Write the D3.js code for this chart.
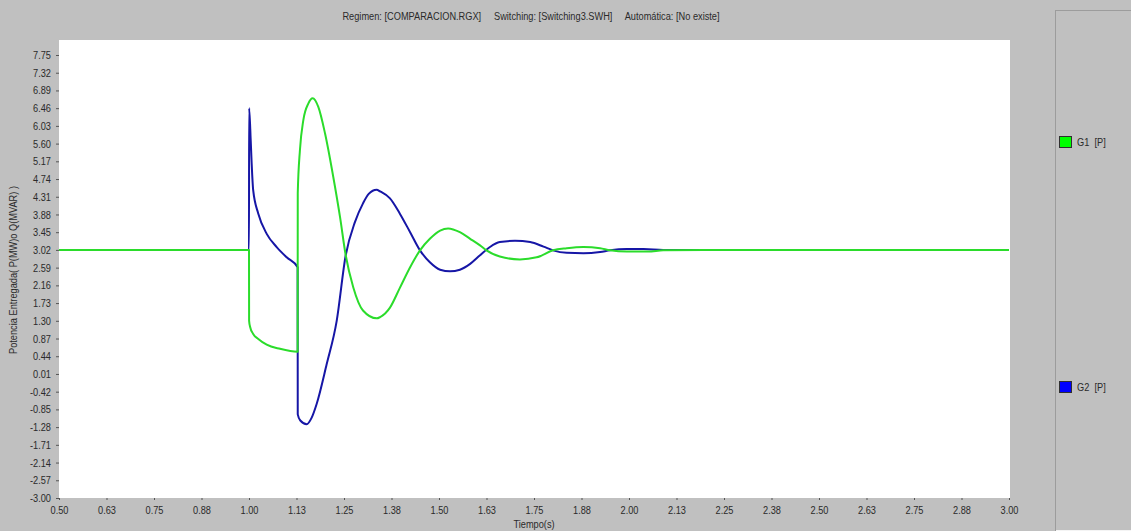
<!DOCTYPE html>
<html>
<head>
<meta charset="utf-8">
<script src="https://cdn.jsdelivr.net/npm/d3@7/dist/d3.min.js"></script>
<style>
  html, body { margin: 0; padding: 0; background: #c0c0c0; }
  svg { display: block; }
  text { font-family: "Liberation Sans", Arial, sans-serif; fill: #2a2a2a; }
</style>
</head>
<body>
<svg id="chart" width="1131" height="531"></svg>
<script>
// Simulation output: delivered active power of each generator (time in s, value in MW)
const g1Time = [0.50, 1.000, 1.0003, 1.003, 1.011, 1.0245, 1.0466, 1.0816, 1.128, 1.1283, 1.134, 1.143, 1.156, 1.1676, 1.1824, 1.200, 1.2218, 1.2395, 1.2545, 1.2745, 1.300, 1.336, 1.345, 1.371, 1.397, 1.424, 1.450, 1.476, 1.503, 1.524, 1.555, 1.582, 1.608, 1.625, 1.660, 1.713, 1.757, 1.800, 1.836, 1.880, 1.924, 1.950, 1.994, 2.050, 2.090, 2.200, 3.00];
const g1Power = [3.02, 3.02, 1.30, 1.15, 0.98, 0.86, 0.72, 0.62, 0.55, 4.39, 5.44, 6.17, 6.57, 6.70, 6.49, 5.85, 4.79, 3.82, 2.89, 2.11, 1.55, 1.36, 1.39, 1.62, 2.10, 2.60, 3.01, 3.29, 3.49, 3.54, 3.45, 3.29, 3.13, 3.01, 2.86, 2.79, 2.84, 3.01, 3.06, 3.09, 3.06, 3.01, 2.98, 2.98, 3.01, 3.02, 3.02];

const g2Time = [0.50, 1.000, 1.0003, 1.0045, 1.007, 1.011, 1.0245, 1.0466, 1.0729, 1.0992, 1.128, 1.1283, 1.135, 1.1518, 1.165, 1.178, 1.2045, 1.2308, 1.2545, 1.279, 1.300, 1.315, 1.336, 1.345, 1.371, 1.397, 1.424, 1.450, 1.476, 1.503, 1.529, 1.555, 1.582, 1.608, 1.634, 1.660, 1.700, 1.740, 1.775, 1.800, 1.836, 1.880, 1.924, 1.950, 1.994, 2.038, 2.090, 2.200, 3.00];
const g2Power = [3.02, 3.02, 6.46, 5.68, 5.12, 4.47, 3.90, 3.41, 3.09, 2.84, 2.60, -0.97, -1.12, -1.21, -1.05, -0.72, 0.25, 1.30, 2.89, 3.70, 4.15, 4.38, 4.48, 4.44, 4.27, 3.90, 3.45, 3.01, 2.72, 2.54, 2.50, 2.54, 2.68, 2.89, 3.09, 3.21, 3.24, 3.21, 3.10, 3.01, 2.95, 2.94, 2.97, 3.01, 3.04, 3.04, 3.02, 3.02, 3.02];

const seriesNames = ["G1  [P]", "G2  [P]"];
const seriesColors = ["#2bdc2b", "#1616a6"];
const swatchColors = ["#00ff00", "#0000ff"];

const yTickLabels = ["7.75", "7.32", "6.89", "6.46", "6.03", "5.60", "5.17", "4.74", "4.31", "3.88", "3.45", "3.02", "2.59", "2.16", "1.73", "1.30", "0.87", "0.44", "0.01", "-0.42", "-0.85", "-1.28", "-1.71", "-2.14", "-2.57", "-3.00"];
const xTickValues = [0.50, 0.625, 0.75, 0.875, 1.00, 1.125, 1.25, 1.375, 1.50, 1.625, 1.75, 1.875, 2.00, 2.125, 2.25, 2.375, 2.50, 2.625, 2.75, 2.875, 3.00];
const xTickLabels = ["0.50", "0.63", "0.75", "0.88", "1.00", "1.13", "1.25", "1.38", "1.50", "1.63", "1.75", "1.88", "2.00", "2.13", "2.25", "2.38", "2.50", "2.63", "2.75", "2.88", "3.00"];

const titleText = "Regimen: [COMPARACION.RGX]     Switching: [Switching3.SWH]     Automática: [No existe]";
const xTitle = "Tiempo(s)";
const yTitle = "Potencia Entregada( P(MW)o Q(MVAR) )";

// horizontal squeeze that gives the narrow sans face of the window captions
const narrow = 0.84;

const svg = d3.select("#chart");
const plot = { left: 59, right: 1009, top: 40, bottom: 498 };

const x = d3.scaleLinear().domain([0.5, 3.0]).range([plot.left, plot.right]);
const y = d3.scaleLinear().domain([-3.0, 8.114]).range([plot.bottom, plot.top]);

// places a condensed text label at (px, py)
function label(parent, px, py, str, anchor, rotate) {
  return parent.append("text")
    .attr("transform", `translate(${px},${py})` + (rotate ? ` rotate(${rotate})` : "") + ` scale(${narrow},1)`)
    .attr("text-anchor", anchor)
    .attr("font-size", 11)
    .style("white-space", "pre")
    .text(str);
}

// window background
svg.append("rect").attr("width", 1131).attr("height", 531).attr("fill", "#c0c0c0");

// legend panel with a sunken border
const panel = svg.append("g");
panel.append("line").attr("x1", 1055.5).attr("x2", 1055.5).attr("y1", 10).attr("y2", 531).attr("stroke", "#9c9c9c");
panel.append("line").attr("x1", 1055).attr("x2", 1131).attr("y1", 10.5).attr("y2", 10.5).attr("stroke", "#9c9c9c");
panel.append("line").attr("x1", 1056).attr("x2", 1131).attr("y1", 530.5).attr("y2", 530.5).attr("stroke", "#f4f4f4");

// plotting area
svg.append("rect")
  .attr("x", plot.left).attr("y", plot.top)
  .attr("width", plot.right - plot.left + 1).attr("height", plot.bottom - plot.top)
  .attr("fill", "#ffffff");

// title
label(svg, 531, 20, titleText, "middle");

// axes
const yAxis = d3.axisLeft(y)
  .tickValues(yTickLabels.map(Number))
  .tickFormat((d, i) => yTickLabels[i])
  .tickSize(3).tickPadding(5).tickSizeOuter(0);
const gy = svg.append("g").attr("transform", `translate(${plot.left},0)`).call(yAxis);

const xAxis = d3.axisBottom(x)
  .tickValues(xTickValues)
  .tickFormat((d, i) => xTickLabels[i])
  .tickSize(2).tickPadding(6).tickSizeOuter(0);
const gx = svg.append("g").attr("transform", `translate(0,${plot.bottom})`).call(xAxis);

[gx, gy].forEach(g => {
  g.select(".domain").remove();
  g.selectAll(".tick line").attr("stroke", "#555");
  g.selectAll(".tick text")
    .attr("font-size", 11).attr("fill", "#2a2a2a")
    .style("font-family", '"Liberation Sans", Arial, sans-serif');
});
gy.selectAll(".tick text").attr("x", -8 / narrow).attr("transform", `scale(${narrow},1)`);
gx.selectAll(".tick text").attr("transform", `scale(${narrow},1)`);

// axis titles
label(svg, 534, 528, xTitle, "middle");
label(svg, 14, 270, yTitle, "middle", -90).attr("dominant-baseline", "middle");

// power traces
const line = d3.line()
  .x(d => x(d[0]))
  .y(d => y(d[1]))
  .curve(d3.curveMonotoneX);

svg.append("clipPath").attr("id", "plotClip")
  .append("rect").attr("x", plot.left).attr("y", plot.top)
  .attr("width", plot.right - plot.left + 1).attr("height", plot.bottom - plot.top);

const traces = [
  { t: g2Time, p: g2Power, color: seriesColors[1] },
  { t: g1Time, p: g1Power, color: seriesColors[0] }
];
svg.append("g").attr("clip-path", "url(#plotClip)")
  .selectAll("path")
  .data(traces)
  .join("path")
  .attr("d", s => line(s.t.map((t, i) => [t, s.p[i]])))
  .attr("fill", "none")
  .attr("stroke", s => s.color)
  .attr("stroke-width", 2)
  .attr("stroke-linejoin", "round");

// legend entries
const legendY = [136, 381];
const legend = svg.append("g").selectAll("g")
  .data(seriesNames)
  .join("g")
  .attr("transform", (d, i) => `translate(1059,${legendY[i]})`);
legend.append("rect")
  .attr("x", 0.5).attr("y", 0.5).attr("width", 12).attr("height", 11)
  .attr("fill", (d, i) => swatchColors[i])
  .attr("stroke", "#303030");
legend.each(function (d) { label(d3.select(this), 18, 10, d, "start"); });
</script>
</body>
</html>
